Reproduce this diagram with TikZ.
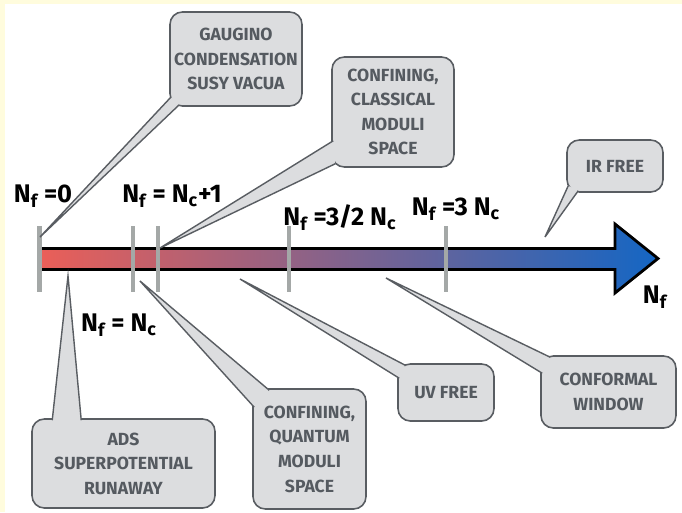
\documentclass[tikz,border=0pt]{standalone}
\usepackage{fontspec}
\setmainfont{Fira Sans}
\usepackage{tikz}
\usetikzlibrary{calc}
\usepackage{xcolor}

\definecolor{bgyellow}{HTML}{FFFCDD}
\definecolor{bubblefill}{HTML}{DCDDDF}
\definecolor{bubbleline}{HTML}{595D62}
\definecolor{bubbletext}{HTML}{555A60}
\definecolor{tickgray}{HTML}{A4A8A7}
\definecolor{axisred}{HTML}{EA5F58}
\definecolor{axisblue}{HTML}{1466C4}

\begin{document}
\begin{tikzpicture}[x=0.02cm, y=-0.02cm, % coordinates in pixels, y downwards
    bubble/.style={draw=bubbleline, fill=bubblefill, line width=0.9pt, rounded corners=7pt,
        text=bubbletext, align=center, inner sep=0pt, font=\fontsize{10}{14}\selectfont\bfseries},
    tail/.style={draw=bubbleline, fill=bubblefill, line width=0.8pt},
    tickmark/.style={draw=tickgray, line width=2.8pt},
    lab/.style={font=\fontsize{14.5}{16}\selectfont\bfseries, inner sep=0pt}]

    % Khung nen
    \fill[bgyellow] (0,0) rectangle (682,512);
    \fill[white] (5,4) rectangle (682,512);
    \useasboundingbox (0,0) rectangle (682,512);

    % Truc N_f (mui ten to mau)
    \shade[left color=axisred, right color=axisblue]
        (40,248.5) -- (615,248.5) -- (615,224) -- (658,258.5) -- (615,293) -- (615,269.5) -- (40,269.5) -- cycle;
    \draw[line width=1.6pt, line join=miter]
        (40,248.5) -- (615,248.5) -- (615,224) -- (658,258.5) -- (615,293) -- (615,269.5) -- (40,269.5);

    % Cac vach chia
    \foreach \x in {39.5, 133, 158, 289, 446}
        \draw[tickmark] (\x,226) -- (\x,292);

    % Nhan tren truc
    \node[lab] (n0)  at (43,196)  {N\textsubscript{f} =0};
    \node[lab] (n1)  at (172,196) {N\textsubscript{f} = N\textsubscript{c}+1};
    \node[lab] (n32) at (340,218) {N\textsubscript{f} =3/2 N\textsubscript{c}};
    \node[lab] (n3)  at (456,209) {N\textsubscript{f} =3 N\textsubscript{c}};
    \node[lab] (nc)  at (119,325) {N\textsubscript{f} = N\textsubscript{c}};
    \node[lab] (nf)  at (655,297) {N\textsubscript{f}};

    % Diem mui cua cac bong thoai
    \coordinate (p0) at (40,237);
    \coordinate (p1) at (160,248);
    \coordinate (pir) at (545,237);
    \coordinate (pads) at (68,276);
    \coordinate (pq) at (140,281);
    \coordinate (puv) at (240,279);
    \coordinate (pcw) at (386,278);

    % Bong thoai phia tren
    \node[bubble, minimum width=2.64cm, minimum height=1.88cm] (gaugino) at (236,59)
        {GAUGINO\\CONDENSATION\\SUSY VACUA};
    \filldraw[tail] ($(gaugino.south west)+(2,-10)$) -- (p0) -- ($(gaugino.south west)+(10,-2)$);

    \node[bubble, minimum width=2.44cm, minimum height=2.2cm] (classical) at (393,112)
        {CONFINING,\\CLASSICAL\\MODULI\\SPACE};
    \filldraw[tail] ($(classical.south west)+(2,-27)$) -- (p1) -- ($(classical.south west)+(4,-4)$);

    \node[bubble, minimum width=1.92cm, minimum height=1.04cm] (irfree) at (615,166) {IR FREE};
    \filldraw[tail] ($(irfree.south west)+(2,-7)$) -- (pir) -- ($(irfree.south west)+(12,-2)$);

    % Bong thoai phia duoi
    \node[bubble, minimum width=3.66cm, minimum height=1.78cm] (ads) at (123.5,463.5)
        {ADS\\SUPERPOTENTIAL\\RUNAWAY};
    \filldraw[tail] ($(ads.north west)+(21,2)$) -- (pads) -- ($(ads.north west)+(50,2)$);

    \node[bubble, minimum width=2.26cm, minimum height=2.4cm] (quantum) at (309.5,449)
        {CONFINING,\\QUANTUM\\MODULI\\SPACE};
    \filldraw[tail] ($(quantum.north west)+(2,19)$) -- (pq) -- ($(quantum.north west)+(17,2)$);

    \node[bubble, minimum width=1.92cm, minimum height=1.14cm] (uvfree) at (446,392.5) {UV FREE};
    \filldraw[tail] ($(uvfree.north west)+(2,15)$) -- (puv) -- ($(uvfree.north west)+(8,2)$);

    \node[bubble, minimum width=2.7cm, minimum height=1.44cm] (conformal) at (608.5,392)
        {CONFORMAL\\WINDOW};
    \filldraw[tail] ($(conformal.north west)+(2,18)$) -- (pcw) -- ($(conformal.north west)+(10,2)$);
\end{tikzpicture}
\end{document}
